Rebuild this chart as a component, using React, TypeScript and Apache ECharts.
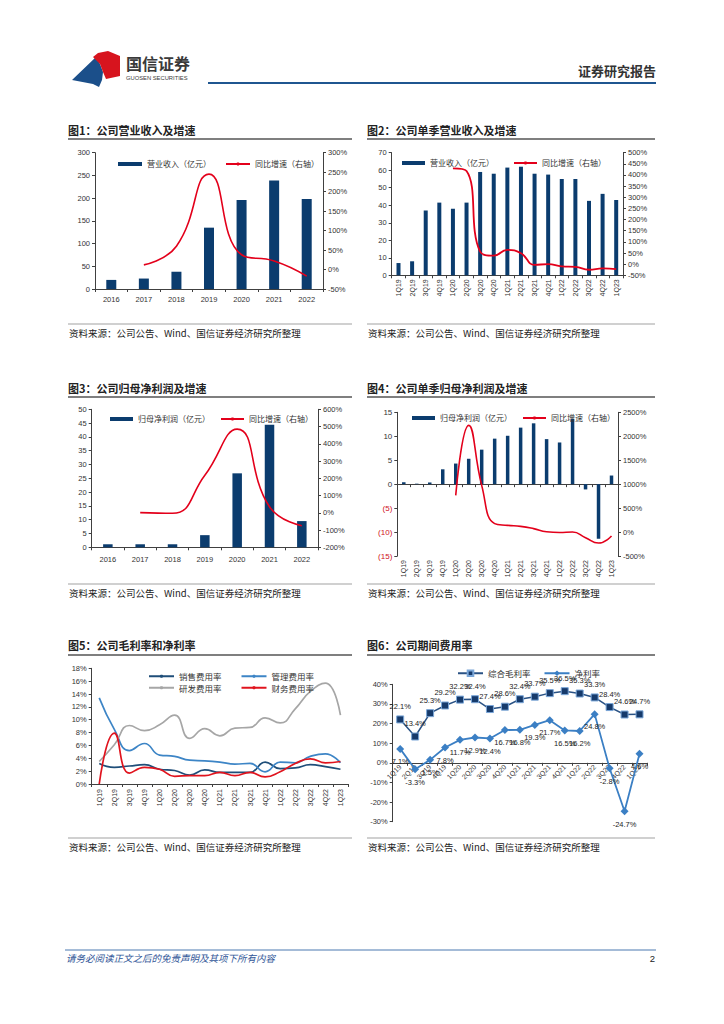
import React, { useEffect, useRef } from "react";
import * as echarts from "echarts";

// ---------- data ----------
const years = ["2016", "2017", "2018", "2019", "2020", "2021", "2022"];
const quarters = ["1Q19", "2Q19", "3Q19", "4Q19", "1Q20", "2Q20", "3Q20", "4Q20", "1Q21", "2Q21", "3Q21", "4Q21", "1Q22", "2Q22", "3Q22", "4Q22", "1Q23"];

const revenueAnnual = [20, 23, 38, 135, 196, 239, 198];
const revenueAnnualYoY = [null, 12, 60, 245, 38, 22, -17];

const revenueQuarterly = [7, 8, 37, 41.5, 38, 41.5, 59, 58, 61.5, 62, 58, 57.5, 55, 55, 42.5, 46.5, 43];
const revenueQuarterlyYoY = [null, null, null, null, 430, 418, 56, 38, 64, 49, -3, 0, -10, -12, -25, -19, -22];

const profitAnnual = [1.1, 1.1, 1.1, 4.4, 26.8, 44.4, 9.5];
const profitAnnualYoY = [null, 1, -3, 218, 485, 35, -75];

const profitQuarterly = [0.4, 0.1, 0.35, 3.1, 4.3, 5.3, 7.2, 9.5, 10.1, 11.8, 12.7, 9.4, 8.7, 13.6, -1.1, -11.4, 1.8];
const profitQuarterlyYoY = [null, null, null, null, 766, 2228, 975, 175, 140, 119, 71, 5, -10, 0, -117, -230, -83];

const salesExpenseRate = [3.2, 2.6, 2.8, 3.0, 2.3, 2.1, 1.4, 2.2, 1.8, 1.8, 1.8, 3.4, 2.4, 2.5, 3.0, 2.7, 2.3];
const adminExpenseRate = [13.4, 8.5, 5.2, 6.3, 4.5, 4.3, 3.7, 3.6, 3.4, 3.1, 3.2, 1.9, 3.4, 3.3, 4.3, 4.7, 3.3];
const rdExpenseRate = [3.5, 6.1, 9.1, 8.3, 9.2, 10.7, 7.1, 8.6, 7.5, 8.7, 8.8, 10.3, 9.5, 11.7, 14.4, 15.7, 10.7];
const financeExpenseRate = [0, 7.9, 1.7, 2.6, 2.3, 1.2, 1.3, 1.3, 1.8, 1.3, 1.8, 1.1, 1.9, 3.2, 3.9, 3.3, 3.5];

const grossMargin = [22.1, 13.4, 25.3, 29.2, 32.2, 32.4, 27.4, 28.6, 32.4, 33.7, 35.5, 36.5, 35.3, 33.3, 28.4, 24.6, 24.7];
const netMargin = [7.1, -3.3, 1.5, 7.8, 11.7, 12.9, 12.4, 16.7, 16.8, 19.3, 21.7, 16.5, 16.2, 24.8, -2.8, -24.7, 4.6];

const titles = [
  "图1：公司营业收入及增速",
  "图2：公司单季营业收入及增速",
  "图3：公司归母净利润及增速",
  "图4：公司单季归母净利润及增速",
  "图5：公司毛利率和净利率",
  "图6：公司期间费用率",
];
const sourceText = "资料来源：公司公告、Wind、国信证券经济研究所整理";

// ---------- styles ----------
const FONT = "'Liberation Sans', 'Noto Sans CJK SC', sans-serif";
const CJK = "'Noto Sans CJK SC', 'Liberation Sans', sans-serif";
const AX = "#404040";
const BAR = "#0b3c6e";
const RED = "#e3001b";

function catAxis(gridIndex: number, data: string[], label: any = {}, line: any = {}, extra: any = {}) {
  return {
    type: "category",
    gridIndex,
    data,
    axisLine: { onZero: false, lineStyle: { color: AX, width: 1 }, ...line },
    axisTick: { show: true, length: 3, lineStyle: { color: AX } },
    axisLabel: { fontSize: 7.5, color: "#333", fontFamily: FONT, margin: 6, interval: 0, ...label },
    splitLine: { show: false },
    ...extra,
  };
}

function valAxis(gridIndex: number, min: number, max: number, interval: number, position: string, fmt: any, label: any = {}) {
  return {
    type: "value",
    gridIndex,
    min,
    max,
    interval,
    position,
    axisLine: { show: true, onZero: false, lineStyle: { color: AX, width: 1 } },
    axisTick: { show: true, length: 3, lineStyle: { color: AX } },
    axisLabel: { fontSize: 7.5, color: "#333", fontFamily: FONT, margin: 5, formatter: fmt, ...label },
    splitLine: { show: false },
  };
}

const pct = (v: number) => `${v}%`;

function legendText() {
  return { fontSize: 8, color: "#333", fontFamily: CJK };
}

function buildGraphic() {
  const els: any[] = [];
  const H = -4; // header vertical shift
  els.push({
    type: "polygon",
    shape: { points: [[72, 84 + H], [96, 61 + H], [100, 68 + H], [103, 76 + H], [102, 84 + H], [99, 91 + H], [93, 88 + H]] },
    style: { fill: "#1b4f8a" },
  });
  els.push({
    type: "polygon",
    shape: { points: [[93, 61 + H], [98, 57 + H], [108, 55 + H], [120, 60 + H], [120, 80 + H], [106, 83 + H], [103, 76 + H], [100, 68 + H]] },
    style: { fill: "#d7141e" },
  });
  els.push({ type: "text", x: 126, y: 67 + H, style: { text: "国信证券", fontSize: 16, fontWeight: "bold", fill: "#3a3a3a", fontFamily: CJK, verticalAlign: "middle" } });
  els.push({ type: "text", x: 126, y: 82 + H, style: { text: "GUOSEN SECURITIES", fontSize: 5.8, fill: "#3a3a3a", fontFamily: FONT, verticalAlign: "middle" } });
  els.push({ type: "text", x: 656, y: 74 + H, style: { text: "证券研究报告", fontSize: 13, fontWeight: "bold", fill: "#333", fontFamily: CJK, align: "right", verticalAlign: "middle" } });
  els.push({ type: "line", shape: { x1: 208, y1: 87 + H, x2: 656, y2: 87 + H }, style: { stroke: "#1f5690", lineWidth: 2 } });

  const cols = [[68, 352], [367, 655]];
  const rows = [
    { title: 130, under: 139, srcLine: 324, src: 333 },
    { title: 388, under: 397, srcLine: 584, src: 593 },
    { title: 645, under: 655, srcLine: 838, src: 847 },
  ];
  for (let r = 0; r < 3; r++) {
    for (let c = 0; c < 2; c++) {
      const idx = r * 2 + c;
      const [x1, x2] = cols[c];
      const row = rows[r];
      els.push({ type: "text", x: x1, y: row.title, style: { text: titles[idx], fontSize: 11, fontWeight: "bold", fill: "#222", fontFamily: CJK, verticalAlign: "middle" } });
      els.push({ type: "line", shape: { x1, y1: row.under, x2, y2: row.under }, style: { stroke: "#555", lineWidth: 1.5 } });
      els.push({ type: "line", shape: { x1, y1: row.srcLine, x2, y2: row.srcLine }, style: { stroke: "#c0c0c0", lineWidth: 1.5 } });
      els.push({ type: "text", x: x1 + 1, y: row.src, style: { text: sourceText, fontSize: 9.5, fill: "#222", fontFamily: CJK, verticalAlign: "middle" } });
    }
  }
  els.push({ type: "line", shape: { x1: 65, y1: 950, x2: 656, y2: 950 }, style: { stroke: "#4a78b0", lineWidth: 1 } });
  els.push({ type: "text", x: 66, y: 958, style: { text: "请务必阅读正文之后的免责声明及其项下所有内容", fontSize: 9.5, fontStyle: "italic", fill: "#2f5597", fontFamily: CJK, verticalAlign: "middle" } });
  els.push({ type: "text", x: 655, y: 958, style: { text: "2", fontSize: 9.5, fill: "#222", fontFamily: FONT, align: "right", verticalAlign: "middle" } });
  return els;
}

function buildOption() {
  const g6 = { left: 392.7, top: 684.3, width: 254.3, height: 137.4 };
  const y6Min = -30;
  const y6Max = 40;
  // distance from grid bottom up to the 0% line, used to lift the category axis onto zero
  const zeroOffset6 = -(g6.height * (0 - y6Min)) / (y6Max - y6Min);

  const grids = [
    { left: 95, top: 152.7, width: 228, height: 136.3 },
    { left: 391.7, top: 152.7, width: 231.3, height: 122.6 },
    { left: 91.7, top: 409.3, width: 226.3, height: 138 },
    { left: 397.3, top: 412.3, width: 220.7, height: 143.7 },
    { left: 91.7, top: 668.3, width: 256.3, height: 115.7 },
    g6,
  ];

  const xAxis = [
    catAxis(0, years, { margin: 7 }),
    catAxis(1, quarters, { rotate: 90, fontSize: 7, margin: 4 }),
    catAxis(2, years, { margin: 8 }),
    catAxis(3, quarters, { rotate: 90, fontSize: 7, margin: 4 }, { onZero: true, onZeroAxisIndex: 6 }),
    catAxis(4, quarters, { rotate: 90, fontSize: 7, margin: 5 }),
    catAxis(5, quarters, { rotate: 45, fontSize: 7, margin: 3 }, { onZero: false }, { position: "bottom", offset: zeroOffset6 }),
  ];

  const yAxis = [
    valAxis(0, 0, 300, 50, "left", null),
    valAxis(0, -50, 300, 50, "right", pct),
    valAxis(1, 0, 70, 10, "left", null),
    valAxis(1, -50, 500, 50, "right", pct),
    valAxis(2, 0, 50, 5, "left", null),
    valAxis(2, -200, 600, 100, "right", pct),
    valAxis(3, -15, 15, 5, "left", (v: number) => (v < 0 ? `(${-v})` : `${v}`), {
      color: (v: any) => (Number(v) < 0 ? "#d0101b" : "#333"),
      fontSize: 8,
    }),
    valAxis(3, -500, 2500, 500, "right", pct),
    valAxis(4, 0, 18, 2, "left", pct),
    valAxis(5, y6Min, y6Max, 10, "left", pct),
  ];

  const legend = [
    {
      left: 113, top: 155, itemWidth: 24, itemHeight: 4, itemGap: 14, textStyle: legendText(),
      data: [{ name: "营业收入（亿元）", icon: "rect" }, { name: "同比增速（右轴）" }],
    },
    {
      left: 397, top: 154, itemWidth: 23, itemHeight: 4, itemGap: 19, textStyle: legendText(),
      data: [{ name: "营业收入（亿元）", icon: "rect" }, { name: "同比增速（右轴）" }],
    },
    {
      left: 105, top: 410, itemWidth: 23, itemHeight: 4, itemGap: 10, textStyle: legendText(),
      data: [{ name: "归母净利润（亿元）", icon: "rect" }, { name: "同比增速（右轴）" }],
    },
    {
      left: 407, top: 409, itemWidth: 23, itemHeight: 4, itemGap: 10, textStyle: legendText(),
      data: [{ name: "归母净利润（亿元）", icon: "rect" }, { name: "同比增速（右轴）" }],
    },
    {
      left: 143, top: 667, itemWidth: 25, itemHeight: 4, itemGap: 19, textStyle: { ...legendText(), fontSize: 8.5 },
      data: ["销售费用率", "管理费用率"],
    },
    {
      left: 143, top: 678.5, itemWidth: 25, itemHeight: 4, itemGap: 19, textStyle: { ...legendText(), fontSize: 8.5 },
      data: ["研发费用率", "财务费用率"],
    },
    {
      left: 452, top: 664, itemWidth: 25, itemHeight: 7, itemGap: 13, textStyle: { ...legendText(), fontSize: 8.5 },
      data: ["综合毛利率", "净利率"],
    },
  ];

  const redLine = (name: string, x: number, y: number, data: any[], width = 1.6) => ({
    name, type: "line", xAxisIndex: x, yAxisIndex: y, data, smooth: true, symbol: "none",
    connectNulls: false, lineStyle: { color: RED, width }, itemStyle: { color: RED },
  });
  const bar = (name: string, x: number, y: number, data: number[], barWidth: number) => ({
    name, type: "bar", xAxisIndex: x, yAxisIndex: y, data, barWidth, itemStyle: { color: BAR },
  });
  const smoothLine = (name: string, data: number[], color: string) => ({
    name, type: "line", xAxisIndex: 4, yAxisIndex: 8, data, smooth: true, symbol: "none",
    lineStyle: { color, width: 1.7 }, itemStyle: { color },
  });
  const labelStyle = { fontSize: 7.5, color: "#222", fontFamily: FONT, formatter: (p: any) => `${Number(p.value).toFixed(1)}%` };

  const series = [
    bar("营业收入（亿元）", 0, 0, revenueAnnual, 10),
    redLine("同比增速（右轴）", 0, 1, revenueAnnualYoY),
    bar("营业收入（亿元）", 1, 2, revenueQuarterly, 4),
    redLine("同比增速（右轴）", 1, 3, revenueQuarterlyYoY, 1.8),
    bar("归母净利润（亿元）", 2, 4, profitAnnual, 9.5),
    redLine("同比增速（右轴）", 2, 5, profitAnnualYoY),
    bar("归母净利润（亿元）", 3, 6, profitQuarterly, 3.5),
    redLine("同比增速（右轴）", 3, 7, profitQuarterlyYoY),
    smoothLine("销售费用率", salesExpenseRate, "#1f4e79"),
    smoothLine("管理费用率", adminExpenseRate, "#3d85c6"),
    smoothLine("研发费用率", rdExpenseRate, "#a6a6a6"),
    smoothLine("财务费用率", financeExpenseRate, "#e0141e"),
    {
      name: "综合毛利率", type: "line", xAxisIndex: 5, yAxisIndex: 9, data: grossMargin,
      symbol: "rect", symbolSize: 7, lineStyle: { color: "#2a5284", width: 1.5 },
      itemStyle: { color: "#163a6b", borderColor: "#7aa6d8", borderWidth: 1 },
      label: { show: true, position: "top", distance: 5, ...labelStyle },
    },
    {
      name: "净利率", type: "line", xAxisIndex: 5, yAxisIndex: 9, data: netMargin,
      symbol: "diamond", symbolSize: 8, lineStyle: { color: "#3b7fc4", width: 1.8 },
      itemStyle: { color: "#3b7fc4" },
      label: { show: true, position: "bottom", distance: 5, ...labelStyle },
    },
  ];

  return {
    animation: false,
    backgroundColor: "#ffffff",
    textStyle: { fontFamily: FONT },
    grid: grids,
    xAxis,
    yAxis,
    legend,
    series,
    graphic: { elements: buildGraphic() },
  };
}

export default function App() {
  const ref = useRef<HTMLDivElement | null>(null);
  useEffect(() => {
    if (!ref.current) return;
    const chart = echarts.init(ref.current, null, { renderer: "svg" });
    chart.setOption(buildOption() as any);
    return () => chart.dispose();
  }, []);
  return (
    <div
      ref={ref}
      style={{ position: "absolute", left: 0, top: 0, width: 724, height: 1024, background: "#fff" }}
    />
  );
}
